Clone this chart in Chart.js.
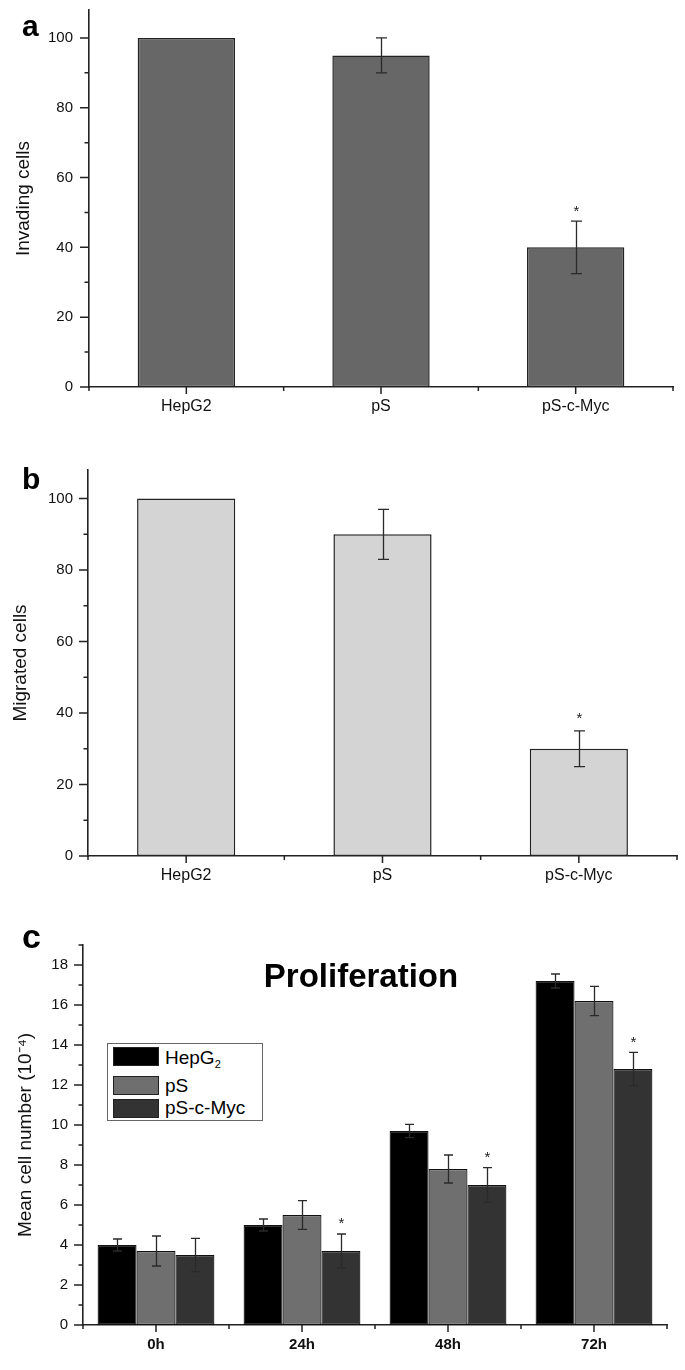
<!DOCTYPE html>
<html>
<head>
<meta charset="utf-8">
<script src="https://cdn.jsdelivr.net/npm/chart.js@4.4.0/dist/chart.umd.min.js"></script>
<style>
  html, body { margin: 0; padding: 0; background: #fff; }
  body { width: 685px; height: 1370px; position: relative; overflow: hidden;
         font-family: "Liberation Sans", Arial, Helvetica, sans-serif; color: #000; }
  canvas { position: absolute; left: 0; }
  .panel { position: absolute; font-weight: bold; color: #000; white-space: nowrap; }
  #legendC { position: absolute; left: 107px; top: 1043px; width: 156px; height: 78px;
             box-sizing: border-box; border: 1px solid #666; background: #fff; }
  #legendC .sw { position: absolute; left: 5px; width: 46px; height: 19px; box-sizing: border-box; border: 1px solid #222; }
  #legendC .tx { position: absolute; left: 57px; font-size: 19px; line-height: 19px; white-space: nowrap; }
  #legendC sub { font-size: 11px; vertical-align: -4px; line-height: 0; }
</style>
</head>
<body>
<canvas id="chartA" width="685" height="440" style="top:0px"></canvas>
<canvas id="chartB" width="685" height="450" style="top:450px"></canvas>
<canvas id="chartC" width="685" height="470" style="top:900px"></canvas>

<div class="panel" style="left:22px;top:11px;font-size:30px;line-height:30px;">a</div>
<div class="panel" style="left:22px;top:464px;font-size:30px;line-height:30px;">b</div>
<div class="panel" style="left:22px;top:919px;font-size:34px;line-height:34px;">c</div>
<div class="panel" style="left:211px;width:300px;text-align:center;top:959px;font-size:33px;line-height:33px;">Proliferation</div>

<div id="legendC"></div>

<script>
// ---------------- DATA ----------------
const categoriesAB = ['HepG2', 'pS', 'pS-c-Myc'];

const invadingValues = [100, 95, 40];
const invadingErrors = [0, 5, 7.5];
const invadingStars  = [false, false, true];

const migratedValues = [100, 90, 30];
const migratedErrors = [0, 7, 5];
const migratedStars  = [false, false, true];

const yTicksAB = [0, 20, 40, 60, 80, 100];

const timeLabels = ['0h', '24h', '48h', '72h'];
const seriesNames = ['HepG2', 'pS', 'pS-c-Myc'];
const legendNames = ['HepG<sub>2</sub>', 'pS', 'pS-c-Myc'];

const hepg2Values   = [4.0, 5.0, 9.7, 17.2];
const hepg2Errors   = [0.3, 0.3, 0.33, 0.35];
const psValues      = [3.7, 5.5, 7.8, 16.2];
const psErrors      = [0.75, 0.72, 0.7, 0.73];
const psMycValues   = [3.5, 3.7, 7.0, 12.8];
const psMycErrors   = [0.83, 0.85, 0.87, 0.83];
const psMycStars    = [false, true, true, true];

const yTicksC = [0, 2, 4, 6, 8, 10, 12, 14, 16, 18];

// ---------------- PLUGINS ----------------
const errorBarPlugin = {
  id: 'errorBars',
  afterDatasetsDraw(chart, args, o) {
    const ctx = chart.ctx, y = chart.scales.y;
    ctx.save();
    ctx.strokeStyle = o.color;
    ctx.lineWidth = o.width;
    ctx.fillStyle = '#222';
    ctx.font = o.starFont;
    ctx.textAlign = 'center';
    ctx.textBaseline = 'middle';
    chart.data.datasets.forEach((ds, d) => {
      const meta = chart.getDatasetMeta(d);
      const errs = o.errors[d] || [];
      const stars = o.stars[d] || [];
      meta.data.forEach((bar, j) => {
        const v = ds.data[j], e = errs[j] || 0;
        const x = Math.round(bar.x) + 0.5;
        let top = y.getPixelForValue(v);
        if (e > 0) {
          top = y.getPixelForValue(v + e);
          const bot = y.getPixelForValue(v - e);
          ctx.beginPath();
          ctx.moveTo(x, top); ctx.lineTo(x, bot);
          ctx.moveTo(x - o.cap, top); ctx.lineTo(x + o.cap, top);
          ctx.moveTo(x - o.cap, bot); ctx.lineTo(x + o.cap, bot);
          ctx.stroke();
        }
        if (stars[j]) ctx.fillText('*', x, top - o.starGap);
      });
    });
    ctx.restore();
  }
};

const axisTicksPlugin = {
  id: 'axisTicks',
  afterDraw(chart, args, o) {
    const ctx = chart.ctx, x = chart.scales.x, y = chart.scales.y;
    const L = chart.chartArea.left, B = chart.chartArea.bottom;
    ctx.save();
    ctx.strokeStyle = o.color;
    ctx.lineWidth = o.width;
    ctx.beginPath();
    const vals = y.ticks.map(t => t.value);
    const step = vals[1] - vals[0];
    vals.forEach(v => {
      const p = y.getPixelForValue(v);
      ctx.moveTo(L, p); ctx.lineTo(L - o.majorY, p);
      const m = v + step / 2;
      if (m <= y.max) {
        const pm = y.getPixelForValue(m);
        ctx.moveTo(L, pm); ctx.lineTo(L - o.minorY, pm);
      }
    });
    const n = chart.data.labels.length;
    for (let i = 0; i < n; i++) {
      const p = x.getPixelForValue(i);
      ctx.moveTo(p, B); ctx.lineTo(p, B + o.majorX);
    }
    for (let i = 0; i <= n; i++) {
      const p = x.getPixelForValue(i - 0.5);
      ctx.moveTo(p, B); ctx.lineTo(p, B + o.minorX);
    }
    ctx.stroke();
    ctx.restore();
  }
};

Chart.defaults.font.family = "'Liberation Sans', Arial, Helvetica, sans-serif";
Chart.defaults.color = '#111';
Chart.defaults.animation = false;

function buildOptions(cfg) {
  return {
    responsive: false,
    animation: false,
    layout: { padding: { left: 0, top: cfg.padTop, right: cfg.padRight, bottom: 0 } },
    plugins: {
      legend: { display: false },
      tooltip: { enabled: false },
      title: { display: false },
      errorBars: { errors: cfg.errors, stars: cfg.stars, cap: cfg.cap, starGap: cfg.starGap,
                   color: '#2a2a2a', width: 1.3, starFont: '15px "Liberation Sans", Arial, sans-serif' },
      axisTicks: { color: '#222', width: 1.5, majorY: 9, minorY: 4.5, majorX: 7, minorX: 4 }
    },
    scales: {
      x: {
        type: 'category',
        offset: true,
        grid: { display: false, drawTicks: false, tickLength: 0 },
        border: { display: true, color: '#222', width: 1.6 },
        ticks: { padding: cfg.xPad, color: '#111', font: cfg.xFont, maxRotation: 0, autoSkip: false },
        afterFit(s) { s.height = cfg.xHeight; s.paddingLeft = 0; s.paddingRight = 0; }
      },
      y: {
        min: 0,
        max: cfg.yMax,
        grid: { display: false, drawTicks: false, tickLength: 0 },
        border: { display: true, color: '#222', width: 1.6 },
        ticks: { padding: cfg.yTickPad, color: '#111', font: { size: 15 } },
        afterBuildTicks(s) { s.ticks = cfg.yTicks.map(v => ({ value: v })); },
        title: { display: true, text: cfg.yTitle, color: '#111',
                 font: { size: 19 }, padding: { top: cfg.titlePad, bottom: 0 } },
        afterFit(s) { s.width = cfg.yWidth; s.paddingTop = 0; s.paddingBottom = 0; }
      }
    }
  };
}

// ---------------- PANEL A ----------------
new Chart(document.getElementById('chartA'), {
  type: 'bar',
  data: {
    labels: categoriesAB,
    datasets: [{
      data: invadingValues,
      backgroundColor: '#676767',
      borderColor: '#222',
      borderWidth: 1.5,
      borderSkipped: false,
      barPercentage: 0.5,
      categoryPercentage: 1.0
    }]
  },
  options: buildOptions({
    padTop: 10, padRight: 12, yWidth: 89, xHeight: 53, yMax: 108, yTicks: yTicksAB,
    yTitle: 'Invading cells', titlePad: 12, yTickPad: 16,
    xFont: { size: 16 }, xPad: 10,
    errors: [invadingErrors], stars: [invadingStars], cap: 5.5, starGap: 9
  }),
  plugins: [errorBarPlugin, axisTicksPlugin]
});

// ---------------- PANEL B ----------------
new Chart(document.getElementById('chartB'), {
  type: 'bar',
  data: {
    labels: categoriesAB,
    datasets: [{
      data: migratedValues,
      backgroundColor: '#d4d4d4',
      borderColor: '#222',
      borderWidth: 1.5,
      borderSkipped: false,
      barPercentage: 0.5,
      categoryPercentage: 1.0
    }]
  },
  options: buildOptions({
    padTop: 20, padRight: 8, yWidth: 88, xHeight: 44, yMax: 108, yTicks: yTicksAB,
    yTitle: 'Migrated cells', titlePad: 9, yTickPad: 15,
    xFont: { size: 16 }, xPad: 10,
    errors: [migratedErrors], stars: [migratedStars], cap: 5.5, starGap: 12
  }),
  plugins: [errorBarPlugin, axisTicksPlugin]
});

// ---------------- PANEL C ----------------
const colorsC = ['#000000', '#6f6f6f', '#333333'];
new Chart(document.getElementById('chartC'), {
  type: 'bar',
  data: {
    labels: timeLabels,
    datasets: [
      { label: seriesNames[0], data: hepg2Values, backgroundColor: colorsC[0] },
      { label: seriesNames[1], data: psValues,    backgroundColor: colorsC[1] },
      { label: seriesNames[2], data: psMycValues, backgroundColor: colorsC[2] }
    ].map(d => Object.assign(d, {
      borderColor: '#111', borderWidth: 1.2, borderSkipped: false,
      barPercentage: 1.0, categoryPercentage: 0.8
    }))
  },
  options: buildOptions({
    padTop: 45, padRight: 18, yWidth: 83, xHeight: 45, yMax: 19, yTicks: yTicksC,
    yTitle: 'Mean cell number (10⁻⁴)', titlePad: 14, yTickPad: 15,
    xFont: { size: 15, weight: 'bold' }, xPad: 11,
    errors: [hepg2Errors, psErrors, psMycErrors], stars: [[], [], psMycStars], cap: 4.5, starGap: 10
  }),
  plugins: [errorBarPlugin, axisTicksPlugin]
});

// ---------------- LEGEND (panel c) ----------------
const legendEl = document.getElementById('legendC');
const swTops = [3, 32, 55];
const txTops = [4, 32, 54];
legendNames.forEach((name, i) => {
  const sw = document.createElement('div');
  sw.className = 'sw';
  sw.style.top = swTops[i] + 'px';
  sw.style.background = colorsC[i];
  legendEl.appendChild(sw);
  const tx = document.createElement('div');
  tx.className = 'tx';
  tx.style.top = txTops[i] + 'px';
  tx.innerHTML = name;
  legendEl.appendChild(tx);
});
</script>
</body>
</html>
